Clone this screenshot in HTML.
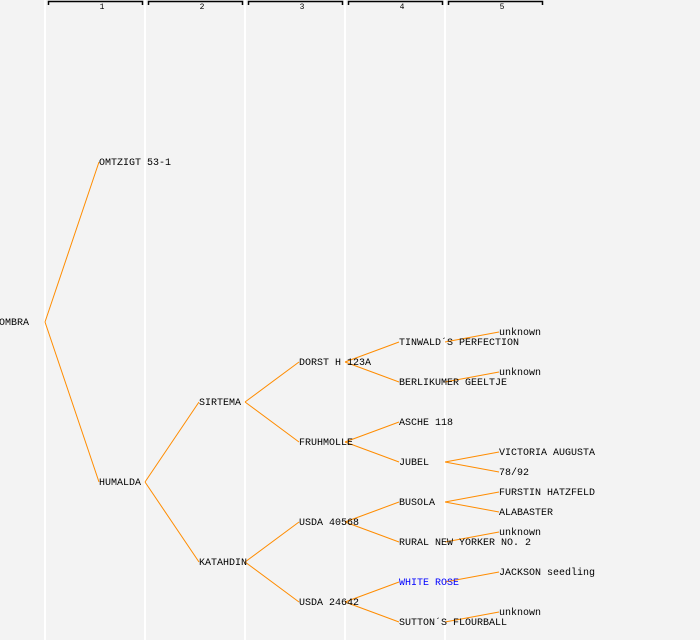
<!DOCTYPE html>
<html><head><meta charset="utf-8"><style>
html,body{margin:0;padding:0;background:#f3f3f3;}
svg{display:block;}
text{font-family:"Liberation Mono","DejaVu Sans Mono",monospace;font-size:10px;fill:#000;}
</style></head><body>
<svg width="700" height="640" xmlns="http://www.w3.org/2000/svg">
<rect width="700" height="640" fill="#f3f3f3"/>
<g stroke="#fff" stroke-width="2">
<line x1="45" y1="0" x2="45" y2="640"/><line x1="145" y1="0" x2="145" y2="640"/>
<line x1="245" y1="0" x2="245" y2="640"/><line x1="345" y1="0" x2="345" y2="640"/>
<line x1="445" y1="0" x2="445" y2="640"/>
</g>
<g stroke="#000" stroke-width="1.5" fill="none">
<path d="M48.5 5V1.5H142.5V5"/><path d="M148.5 5V1.5H242.5V5"/><path d="M248.5 5V1.5H342.5V5"/>
<path d="M348.5 5V1.5H442.5V5"/><path d="M448.5 5V1.5H542.5V5"/>
</g>
<g text-anchor="middle">
<text x="102" y="9" style="font-size:8px">1</text><text x="202" y="9" style="font-size:8px">2</text>
<text x="302" y="9" style="font-size:8px">3</text><text x="402" y="9" style="font-size:8px">4</text>
<text x="502" y="9" style="font-size:8px">5</text>
</g>
<g stroke="#ff8c00" stroke-width="1" fill="none">
<path d="M45 322L99 162M45 322L99 482"/>
<path d="M145 482L199 402M145 482L199 562"/>
<path d="M245 402L299 362M245 402L299 442M245 562L299 522M245 562L299 602"/>
<path d="M345 362L399 342M345 362L399 382M345 442L399 422M345 442L399 462M345 522L399 502M345 522L399 542M345 602L399 582M345 602L399 622"/>
<path d="M445 342L499 332M445 382L499 372M445 462L499 452M445 462L499 472M445 502L499 492M445 502L499 512M445 542L499 532M445 582L499 572M445 622L499 612"/>
</g>
<g>
<text x="-1" y="325">OMBRA</text>
<text x="99" y="165">OMTZIGT 53-1</text><text x="99" y="485">HUMALDA</text>
<text x="199" y="405">SIRTEMA</text><text x="199" y="565">KATAHDIN</text>
<text x="299" y="365">DORST H 123A</text><text x="299" y="445">FRUHMOLLE</text>
<text x="299" y="525">USDA 40568</text><text x="299" y="605">USDA 24642</text>
<text x="399" y="345">TINWALD´S PERFECTION</text><text x="399" y="385">BERLIKUMER GEELTJE</text>
<text x="399" y="425">ASCHE 118</text><text x="399" y="465">JUBEL</text>
<text x="399" y="505">BUSOLA</text><text x="399" y="545">RURAL NEW YORKER NO. 2</text>
<text x="399" y="585" style="fill:#0000ff">WHITE ROSE</text><text x="399" y="625">SUTTON´S FLOURBALL</text>
<text x="499" y="335">unknown</text><text x="499" y="375">unknown</text>
<text x="499" y="455">VICTORIA AUGUSTA</text><text x="499" y="475">78/92</text>
<text x="499" y="495">FURSTIN HATZFELD</text><text x="499" y="515">ALABASTER</text>
<text x="499" y="535">unknown</text><text x="499" y="575">JACKSON seedling</text>
<text x="499" y="615">unknown</text>
</g>
</svg>
</body></html>
